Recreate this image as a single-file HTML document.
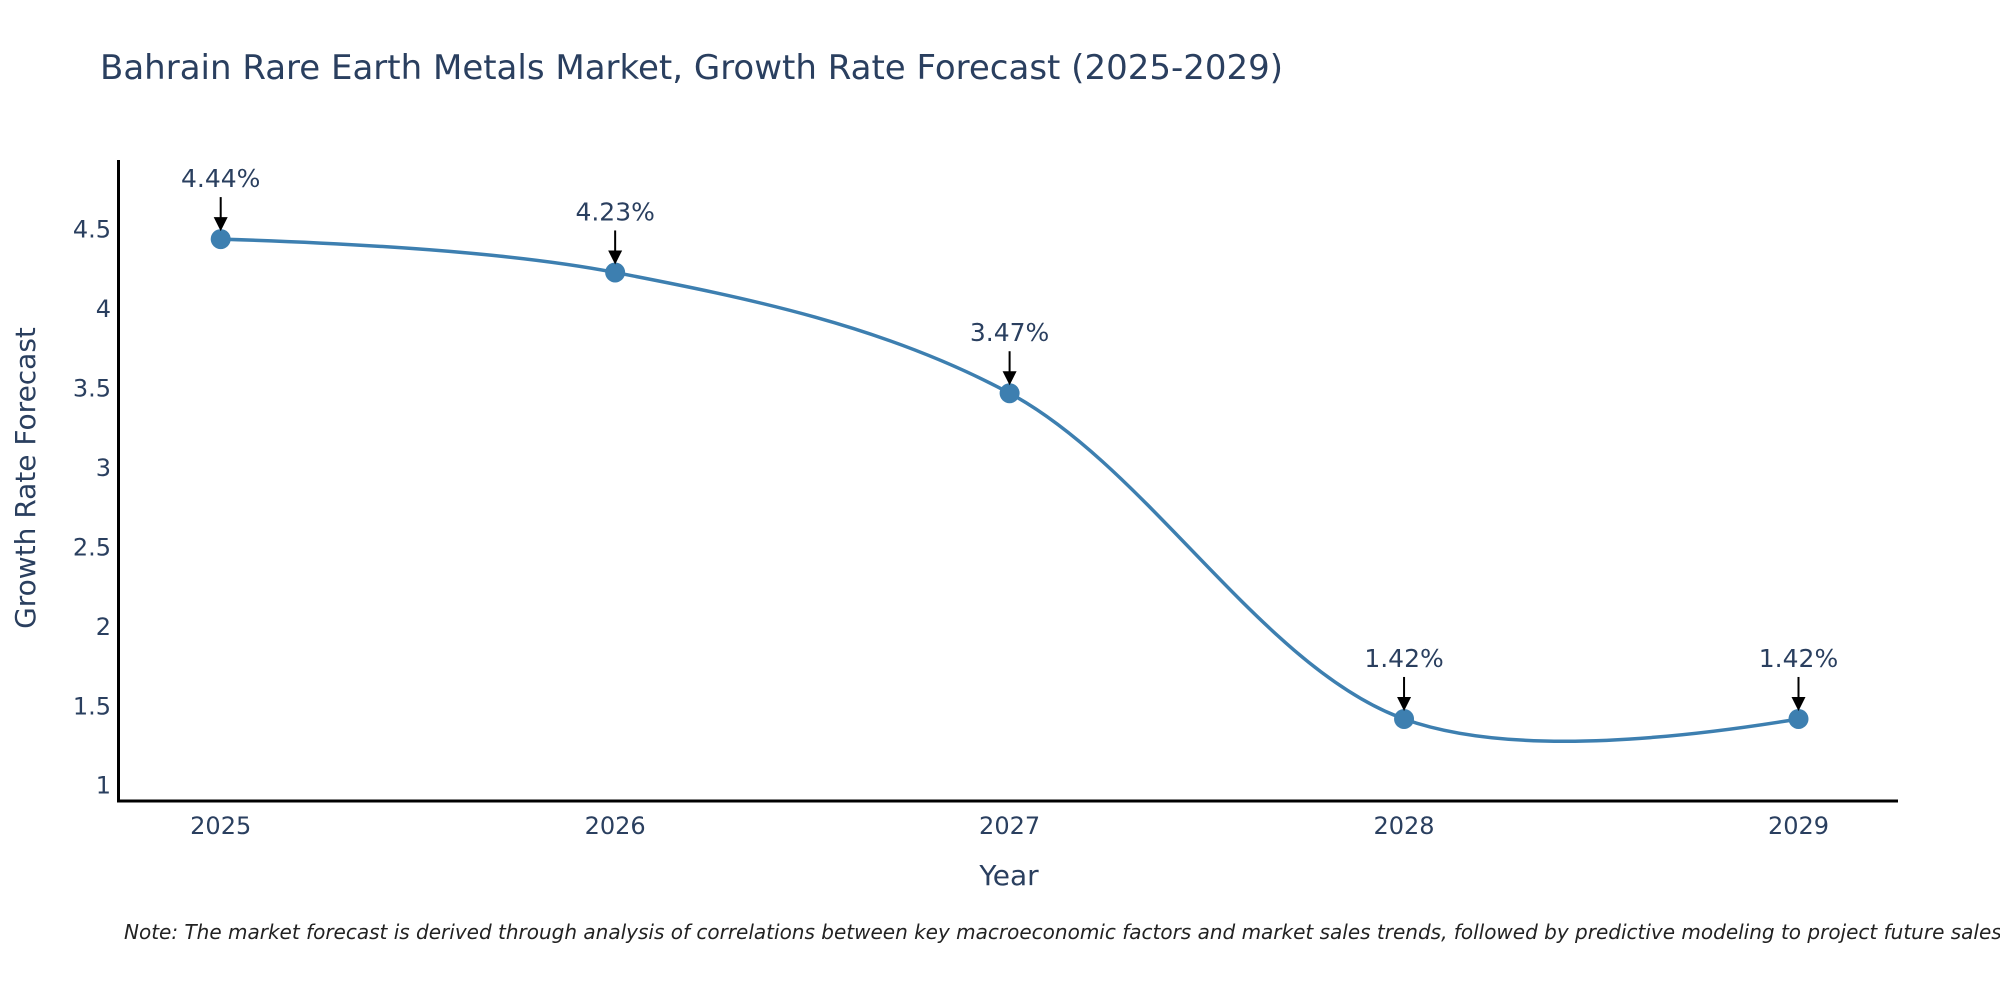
<!DOCTYPE html>
<html><head><meta charset="utf-8"><style>
body{margin:0;background:#fff;}
svg{display:block;font-family:"DejaVu Sans","Liberation Sans",sans-serif;}
</style></head><body>
<svg id="chart" width="2000" height="1000">
<text x="100" y="79" font-size="34" fill="#2a3f5f">Bahrain Rare Earth Metals Market, Growth Rate Forecast (2025-2029)</text>
<g id="plot"></g>
<line x1="118.5" y1="160" x2="118.5" y2="802" stroke="#000" stroke-width="3"/>
<line x1="117" y1="801" x2="1898" y2="801" stroke="#000" stroke-width="3"/>
<text x="1009" y="885" font-size="28" fill="#2a3f5f" text-anchor="middle">Year</text>
<text transform="translate(35,478) rotate(-90)" font-size="28" fill="#2a3f5f" text-anchor="middle">Growth Rate Forecast</text>
<text x="124" y="939" font-size="20" font-style="italic" fill="#222">Note: The market forecast is derived through analysis of correlations between key macroeconomic factors and market sales trends, followed by predictive modeling to project future sales.</text>
</svg>
<script>
const years=[2025,2026,2027,2028,2029];
const values=[4.44,4.23,3.47,1.42,1.42];
const labels=["4.44%","4.23%","3.47%","1.42%","1.42%"];
const yTicks=[1,1.5,2,2.5,3,3.5,4,4.5];
const yTickLabels=["1","1.5","2","2.5","3","3.5","4","4.5"];
const NS="http://www.w3.org/2000/svg";
const x=v=>220.7+(v-2025)*(1798.5-220.7)/4;
const y=v=>785.7-(v-1)*158.9;
const g=document.getElementById('plot');
function el(t,a){const e=document.createElementNS(NS,t);for(const k in a)e.setAttribute(k,a[k]);g.appendChild(e);return e;}
yTicks.forEach((t,i)=>{const e=el('text',{x:111,y:y(t)+8,'font-size':24,fill:'#2a3f5f','text-anchor':'end'});e.textContent=yTickLabels[i];

});
years.forEach(t=>{const e=el('text',{x:x(t),y:834,'font-size':24,fill:'#2a3f5f','text-anchor':'middle'});e.textContent=String(t);

});
const pts=years.map((t,i)=>[x(t),y(values[i])]);
function tan(p,c,n,s){const d1x=p[0]-c[0],d1y=p[1]-c[1],d2x=n[0]-c[0],d2y=n[1]-c[1];
const d1a=Math.pow(d1x*d1x+d1y*d1y,0.25),d2a=Math.pow(d2x*d2x+d2y*d2y,0.25);
const nx=(d2a*d2a*d1x-d1a*d1a*d2x)*s,ny=(d2a*d2a*d1y-d1a*d1a*d2y)*s;
const D1=3*d2a*(d1a+d2a),D2=3*d1a*(d1a+d2a);
return [[c[0]+(D1&&nx/D1),c[1]+(D1&&ny/D1)],[c[0]-(D2&&nx/D2),c[1]-(D2&&ny/D2)]];}
const tg=[];for(let i=1;i<pts.length-1;i++)tg.push(tan(pts[i-1],pts[i],pts[i+1],1));
let d='M'+pts[0]+'Q'+tg[0][0]+' '+pts[1];
for(let i=2;i<pts.length-1;i++)d+='C'+tg[i-2][1]+' '+tg[i-1][0]+' '+pts[i];
d+='Q'+tg[pts.length-3][1]+' '+pts[pts.length-1];
const line=el('path',{d:d,fill:'none',stroke:'#3d7fb0','stroke-width':3.5});


pts.forEach((p,i)=>{
const c=el('circle',{cx:p[0],cy:p[1],r:10,fill:'#3d7fb0'});


const a=el('line',{x1:p[0],y1:p[1]-42,x2:p[0],y2:p[1]-20,stroke:'#000','stroke-width':2});


const h=el('path',{d:`M${p[0]-7},${p[1]-22}L${p[0]+7},${p[1]-22}L${p[0]},${p[1]-8}Z`,fill:'#000'});


const t=el('text',{x:p[0],y:p[1]-52,'font-size':25,fill:'#2a3f5f','text-anchor':'middle'});t.textContent=labels[i];


});
</script>
</body></html>
